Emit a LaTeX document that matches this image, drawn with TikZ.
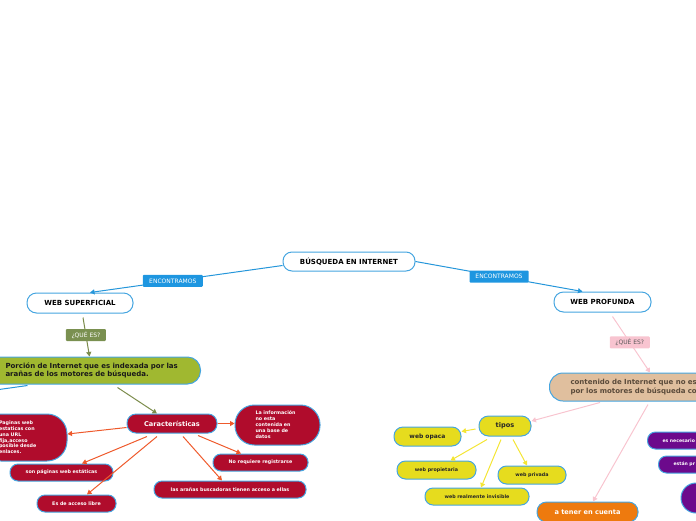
\documentclass[tikz,border=0pt]{standalone}
\usepackage{fontspec}
\setmainfont{DejaVu Sans}
\usetikzlibrary{calc,arrows.meta}
\definecolor{bblue}{HTML}{45A5E0}
\definecolor{eblue}{HTML}{2596DA}
\definecolor{lblue}{HTML}{1E96E0}
\definecolor{eolive}{HTML}{7C8C4C}
\definecolor{lolive}{HTML}{7A9050}
\definecolor{cgreen}{HTML}{A0B830}
\definecolor{crimson}{HTML}{B00C2C}
\definecolor{eorange}{HTML}{EE5A2C}
\definecolor{epink}{HTML}{F8C4CF}
\definecolor{lpink}{HTML}{F8C4D0}
\definecolor{ctan}{HTML}{E0BF9E}
\definecolor{ctantext}{HTML}{5A4A3A}
\definecolor{cyellow}{HTML}{E6DC1E}
\definecolor{eyellow}{HTML}{F4E534}
\definecolor{corange}{HTML}{EE7A0E}
\definecolor{cpurple}{HTML}{6C0A8C}
\begin{document}
\begin{tikzpicture}[x=1pt,y=-1pt,
  nbox/.style={draw=bblue, line width=1pt, inner sep=0pt, align=center},
  wbox/.style={nbox, fill=white, text=black, font=\bfseries\fontsize{7}{8.5}\selectfont},
  crim/.style={nbox, fill=crimson, text=white, font=\bfseries\fontsize{4.8}{5.9}\selectfont},
  ybox/.style={nbox, fill=cyellow, text=black!85, font=\bfseries\fontsize{4.8}{5.9}\selectfont},
  pbox/.style={nbox, fill=cpurple, text=white, font=\bfseries\fontsize{4.6}{5.6}\selectfont},
  tip/.style={-{Triangle[length=4.5pt,width=5pt]}},
  eb/.style={draw=eblue, line width=1pt, tip},
  eo/.style={draw=eolive, line width=1pt, tip},
  eor/.style={draw=eorange, line width=1pt, tip},
  ep/.style={draw=epink, line width=1pt, tip},
  ey/.style={draw=eyellow, line width=1pt, tip},
  lbl/.style={inner sep=0pt, minimum height=12pt, rounded corners=1pt, font=\fontsize{6}{7}\selectfont}
]
\useasboundingbox (0,0) rectangle (696,520);
\clip (0,0) rectangle (696,520);

% ---------- nodes ----------
\node[wbox, minimum width=132pt, minimum height=19pt, rounded corners=9pt] (root) at (349,261.5) {BÚSQUEDA EN INTERNET};
\node[wbox, minimum width=106pt, minimum height=20pt, rounded corners=9.5pt] (sup) at (80,303) {WEB SUPERFICIAL};
\node[wbox, minimum width=97pt, minimum height=20pt, rounded corners=9.5pt] (prof) at (602.5,302) {WEB PROFUNDA};

\node[nbox, fill=cgreen, text=black!90, anchor=west, text width=175pt, inner xsep=20pt, minimum height=27pt, rounded corners=13pt, align=left, font=\bfseries\fontsize{7}{8.7}\selectfont] (green) at (-15,370.5) {Porción de Internet que es indexada por las\\arañas de los motores de búsqueda.};

\node[crim, minimum width=90pt, minimum height=19pt, rounded corners=9pt, font=\bfseries\fontsize{6.6}{8}\selectfont] (car) at (172,423.5) {Características};
\node[crim, minimum width=85pt, minimum height=40pt, rounded corners=19.5pt, text width=44pt, align=left, font=\bfseries\fontsize{4.8}{6}\selectfont] (info) at (277.5,425) {La información\\no esta\\contenida en\\una base de\\datos};
\node[crim, minimum width=86pt, minimum height=47pt, rounded corners=20pt, text width=50pt, align=left, font=\bfseries\fontsize{4.8}{5.8}\selectfont] (pag) at (24,437.5) {Paginas web\\estaticas con\\una URL\\fija,acceso\\posible desde\\enlaces.};
\node[crim, minimum width=103pt, minimum height=17pt, rounded corners=8pt] (son) at (61.5,472.5) {son páginas web estáticas};
\node[crim, minimum width=79pt, minimum height=17pt, rounded corners=8pt] (libre) at (76.5,503.5) {Es de acceso libre};
\node[crim, minimum width=95pt, minimum height=17pt, rounded corners=8pt] (noreq) at (260.5,462.5) {No requiere registrarse};
\node[crim, minimum width=152pt, minimum height=17pt, rounded corners=8pt] (aranas) at (230,489.5) {las arañas buscadoras tienen acceso a ellas};

\node[nbox, fill=ctan, text=ctantext, anchor=west, text width=200pt, inner xsep=21pt, minimum height=28pt, rounded corners=13.5pt, align=left, font=\bfseries\fontsize{7}{8.7}\selectfont] (tan) at (549,387) {contenido de Internet que no está indexado\\por los motores de búsqueda convencionales};

\node[ybox, minimum width=52pt, minimum height=20pt, rounded corners=9.5pt, font=\bfseries\fontsize{6.6}{8}\selectfont] (tipos) at (505,426) {tipos};
\node[ybox, minimum width=67pt, minimum height=19pt, rounded corners=9pt, font=\bfseries\fontsize{6}{7}\selectfont] (opaca) at (427.5,436.5) {web opaca};
\node[ybox, minimum width=79pt, minimum height=18pt, rounded corners=8.5pt] (propia) at (436.5,470) {web propietaria};
\node[ybox, minimum width=68pt, minimum height=18pt, rounded corners=8.5pt] (privada) at (532,475) {web privada};
\node[ybox, minimum width=104pt, minimum height=17pt, rounded corners=8pt] (invis) at (477,496.5) {web realmente invisible};

\node[nbox, fill=corange, text=white, minimum width=101pt, minimum height=20pt, rounded corners=9.5pt, font=\bfseries\fontsize{6.6}{8}\selectfont] (cuenta) at (587.5,512) {a tener en cuenta};

\node[pbox, anchor=west, text width=100pt, inner xsep=15pt, minimum height=17pt, rounded corners=8pt, align=left] (nec) at (647,440.5) {es necesario};
\node[pbox, anchor=west, text width=100pt, inner xsep=15pt, minimum height=17pt, rounded corners=8pt, align=left] (estan) at (658,464.5) {están pr};
\node[nbox, circle, fill=cpurple, minimum size=30pt] (circ) at (696,498) {};

\coordinate (offleft) at (-40,395);

% ---------- connectors ----------
\draw[eb] ($(root.west)+(0,4)$) -- node[lbl, pos=0.57, fill=lblue, text=white, minimum width=60pt] (enc1) {ENCONTRAMOS} ($(sup.north)+(10,0)$);
\draw[eb] (root.east) -- node[lbl, pos=0.5, fill=lblue, text=white, minimum width=59pt] (enc2) {ENCONTRAMOS} ($(prof.north)+(-20,0)$);

\draw[eo] ($(sup.south)+(3,4)$) -- node[lbl, pos=0.45, fill=lolive, text=white, minimum width=40pt] (que1) {¿QUÉ ES?} ($(green.north)+(-3.5,0)$);
\draw[eo] ($(green.south)+(24.5,3)$) -- ($(car.north)+(-15,0)$);
\draw[draw=eblue, line width=1pt] ($(green.south)+(-65.5,1)$) -- (offleft);

\draw[eor] ($(car.west)+(0,4)$) -- ($(pag.east)+(0,-3.5)$);
\draw[eor] ($(car.south)+(-25,3)$) -- ($(son.north)+(20.5,0)$);
\draw[eor] ($(car.south)+(-15,3)$) -- ($(libre.north)+(10.5,0)$);
\draw[eor] ($(car.south)+(11,3)$) -- ($(aranas.north)+(-8,0)$);
\draw[eor] ($(car.south)+(26,2)$) -- ($(noreq.north)+(-19.5,0)$);
\draw[eor] (car.east) -- (car.east -| info.west);

\draw[ep] ($(prof.south)+(10,4)$) -- node[lbl, pos=0.46, fill=lpink, text=black!65, minimum width=40pt] (que2) {¿QUÉ ES?} ($(tan.north west)+(101,0)$);
\draw[ep] ($(tan.south west)+(51,1)$) -- ($(tipos.east)+(0,-5)$);
\draw[ep] ($(tan.south west)+(99,3)$) -- ($(cuenta.north)+(5.5,0)$);

\draw[ey] ($(tipos.west)+(-3,3)$) -- ($(opaca.east)+(0,-5)$);
\draw[ey] ($(tipos.south)+(-18,3)$) -- ($(propia.north)+(14,0)$);
\draw[ey] ($(tipos.south)+(-4,3)$) -- ($(invis.north)+(4,0)$);
\draw[ey] ($(tipos.south)+(8,3)$) -- ($(privada.north)+(-5,0)$);
\end{tikzpicture}
\end{document}
